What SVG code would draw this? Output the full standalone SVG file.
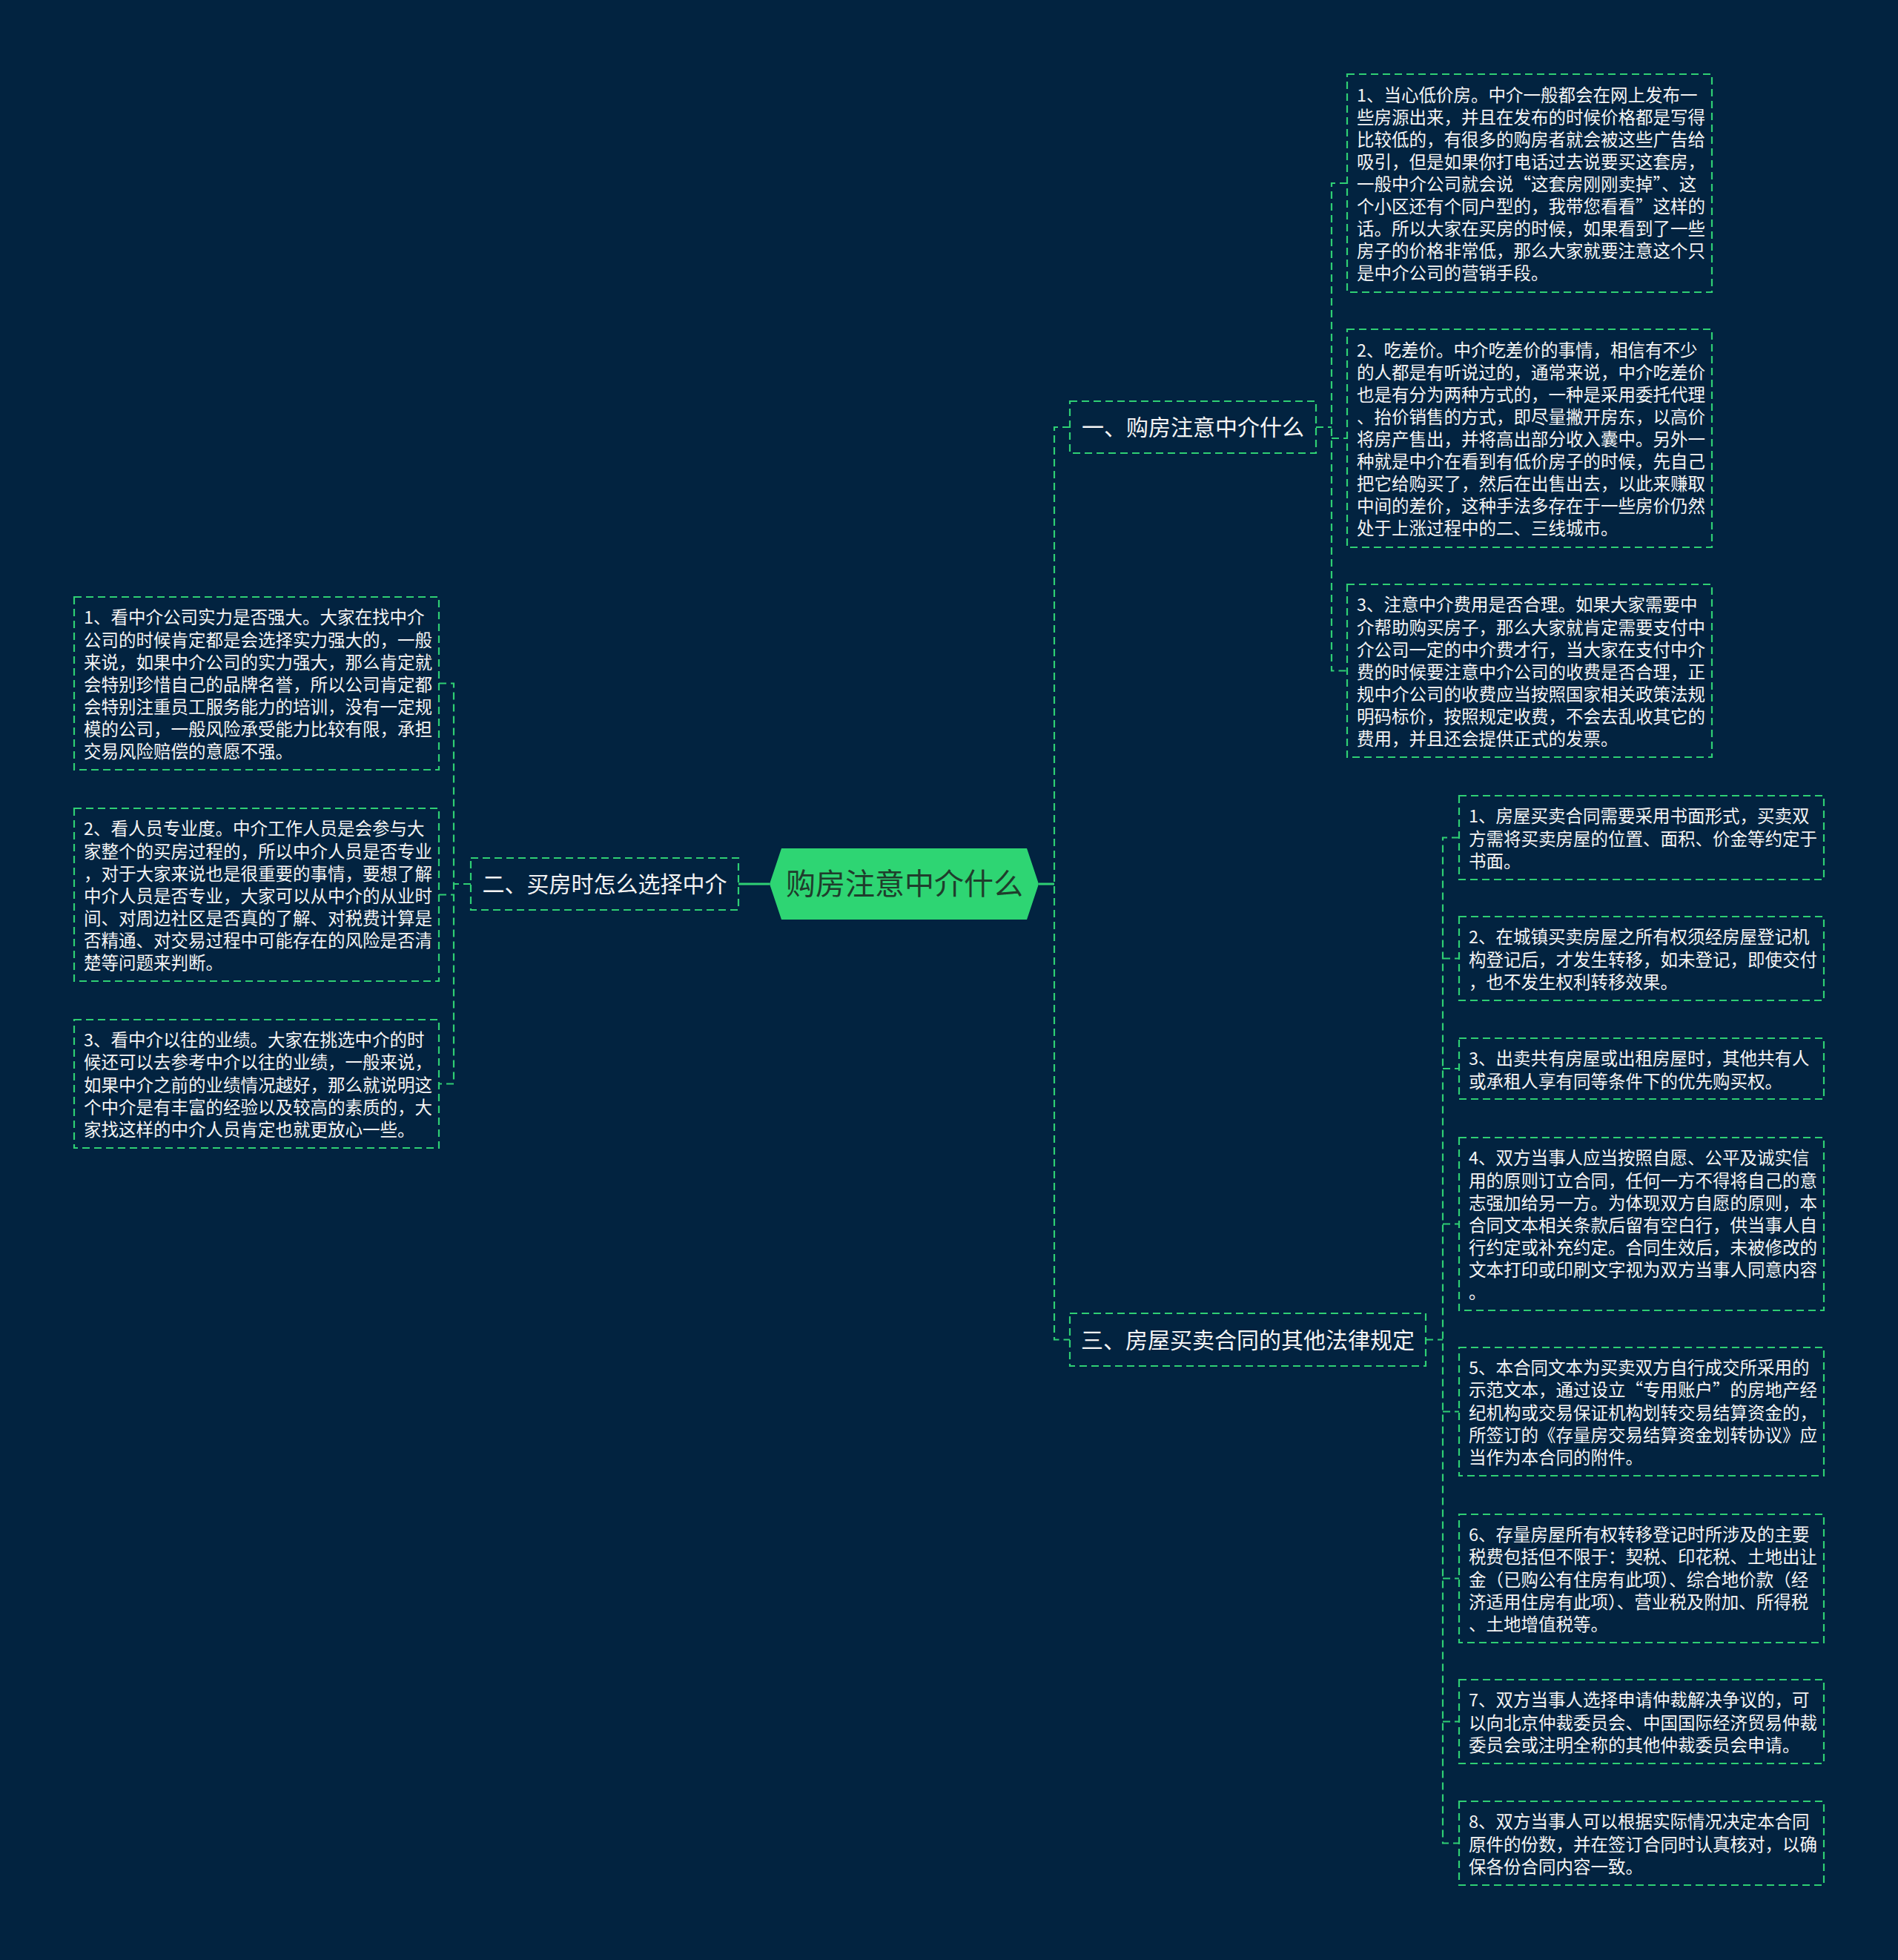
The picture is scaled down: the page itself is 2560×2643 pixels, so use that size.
<svg xmlns="http://www.w3.org/2000/svg" width="2560" height="2643" viewBox="0 0 2560 2643">
<style>
.bg{fill:#022340}
.box{fill:none;stroke:#2fcf74;stroke-width:2.2;stroke-dasharray:10 6}
.dash{fill:none;stroke:#2fcf74;stroke-width:2.2;stroke-dasharray:10 6}
.solid{fill:none;stroke:#2fcf74;stroke-width:3}
.leaf{font-family:"Noto Sans CJK SC","Noto Sans",sans-serif;font-size:23.5px;fill:#f4f4f4}
.br{font-family:"Noto Sans CJK SC","Noto Sans",sans-serif;font-size:30px;fill:#f4f4f4}
.rt{font-family:"Noto Sans CJK SC","Noto Sans",sans-serif;font-size:40px;fill:#1f3d2c}
</style>
<rect class="bg" x="0" y="0" width="2560" height="2643"/>
<g id="connectors">
<path class="solid" d="M996,1192 H1038"/>
<path class="solid" d="M1401,1192 H1422"/>
<path class="dash" d="M1443,576 H1422 V1806.5 H1443"/>
<path class="dash" d="M635,1192 H612"/>
<path class="dash" d="M592,921.5 H612 V1461.5 H592 M592,1206.5 H612"/>
<path class="dash" d="M1775,576 H1796"/>
<path class="dash" d="M1817,247 H1796 V904.5 H1817 M1796,591 H1817"/>
<path class="dash" d="M1923,1806.5 H1946"/>
<path class="dash" d="M1968,1129.5 H1946 V2485.5 H1968 M1946,1292.5 H1968 M1946,1441 H1968 M1946,1650.5 H1968 M1946,1903.5 H1968 M1946,2128.5 H1968 M1946,2321.5 H1968"/>
</g>
<g id="root">
<polygon points="1038,1192 1054,1144 1385,1144 1401,1192 1385,1240 1054,1240" fill="#2ed573"/>
<text class="rt" x="1220" y="1206" text-anchor="middle">购房注意中介什么</text>
</g>
<g id="branch1">
<rect class="box" x="1443" y="541" width="332" height="70"/>
<text class="br" x="1609" y="587" text-anchor="middle">一、购房注意中介什么</text>
</g>
<g id="branch2">
<rect class="box" x="635" y="1157" width="361" height="70"/>
<text class="br" x="815.5" y="1203" text-anchor="middle">二、买房时怎么选择中介</text>
</g>
<g id="branch3">
<rect class="box" x="1443" y="1771" width="480" height="71"/>
<text class="br" x="1683" y="1818" text-anchor="middle">三、房屋买卖合同的其他法律规定</text>
</g>
<g id="leaf-r1-1">
<rect class="box" x="1817" y="100" width="492" height="294"/>
<text class="leaf" x="1830" y="136.6"><tspan x="1830">1、当心低价房。中介一般都会在网上发布一</tspan><tspan x="1830" dy="30.1">些房源出来，并且在发布的时候价格都是写得</tspan><tspan x="1830" dy="30.1">比较低的，有很多的购房者就会被这些广告给</tspan><tspan x="1830" dy="30.1">吸引，但是如果你打电话过去说要买这套房，</tspan><tspan x="1830" dy="30.1">一般中介公司就会说“这套房刚刚卖掉”、这</tspan><tspan x="1830" dy="30.1">个小区还有个同户型的，我带您看看”这样的</tspan><tspan x="1830" dy="30.1">话。所以大家在买房的时候，如果看到了一些</tspan><tspan x="1830" dy="30.1">房子的价格非常低，那么大家就要注意这个只</tspan><tspan x="1830" dy="30.1">是中介公司的营销手段。</tspan></text>
</g>
<g id="leaf-r1-2">
<rect class="box" x="1817" y="444" width="492" height="294"/>
<text class="leaf" x="1830" y="480.6"><tspan x="1830">2、吃差价。中介吃差价的事情，相信有不少</tspan><tspan x="1830" dy="30.1">的人都是有听说过的，通常来说，中介吃差价</tspan><tspan x="1830" dy="30.1">也是有分为两种方式的，一种是采用委托代理</tspan><tspan x="1830" dy="30.1">、抬价销售的方式，即尽量撇开房东，以高价</tspan><tspan x="1830" dy="30.1">将房产售出，并将高出部分收入囊中。另外一</tspan><tspan x="1830" dy="30.1">种就是中介在看到有低价房子的时候，先自己</tspan><tspan x="1830" dy="30.1">把它给购买了，然后在出售出去，以此来赚取</tspan><tspan x="1830" dy="30.1">中间的差价，这种手法多存在于一些房价仍然</tspan><tspan x="1830" dy="30.1">处于上涨过程中的二、三线城市。</tspan></text>
</g>
<g id="leaf-r1-3">
<rect class="box" x="1817" y="788" width="492" height="233"/>
<text class="leaf" x="1830" y="824.4"><tspan x="1830">3、注意中介费用是否合理。如果大家需要中</tspan><tspan x="1830" dy="30.1">介帮助购买房子，那么大家就肯定需要支付中</tspan><tspan x="1830" dy="30.1">介公司一定的中介费才行，当大家在支付中介</tspan><tspan x="1830" dy="30.1">费的时候要注意中介公司的收费是否合理，正</tspan><tspan x="1830" dy="30.1">规中介公司的收费应当按照国家相关政策法规</tspan><tspan x="1830" dy="30.1">明码标价，按照规定收费，不会去乱收其它的</tspan><tspan x="1830" dy="30.1">费用，并且还会提供正式的发票。</tspan></text>
</g>
<g id="leaf-l1">
<rect class="box" x="100" y="805" width="492" height="233"/>
<text class="leaf" x="113" y="841.4"><tspan x="113">1、看中介公司实力是否强大。大家在找中介</tspan><tspan x="113" dy="30.1">公司的时候肯定都是会选择实力强大的，一般</tspan><tspan x="113" dy="30.1">来说，如果中介公司的实力强大，那么肯定就</tspan><tspan x="113" dy="30.1">会特别珍惜自己的品牌名誉，所以公司肯定都</tspan><tspan x="113" dy="30.1">会特别注重员工服务能力的培训，没有一定规</tspan><tspan x="113" dy="30.1">模的公司，一般风险承受能力比较有限，承担</tspan><tspan x="113" dy="30.1">交易风险赔偿的意愿不强。</tspan></text>
</g>
<g id="leaf-l2">
<rect class="box" x="100" y="1090" width="492" height="233"/>
<text class="leaf" x="113" y="1126.4"><tspan x="113">2、看人员专业度。中介工作人员是会参与大</tspan><tspan x="113" dy="30.1">家整个的买房过程的，所以中介人员是否专业</tspan><tspan x="113" dy="30.1">，对于大家来说也是很重要的事情，要想了解</tspan><tspan x="113" dy="30.1">中介人员是否专业，大家可以从中介的从业时</tspan><tspan x="113" dy="30.1">间、对周边社区是否真的了解、对税费计算是</tspan><tspan x="113" dy="30.1">否精通、对交易过程中可能存在的风险是否清</tspan><tspan x="113" dy="30.1">楚等问题来判断。</tspan></text>
</g>
<g id="leaf-l3">
<rect class="box" x="100" y="1375" width="492" height="173"/>
<text class="leaf" x="113" y="1411.3"><tspan x="113">3、看中介以往的业绩。大家在挑选中介的时</tspan><tspan x="113" dy="30.1">候还可以去参考中介以往的业绩，一般来说，</tspan><tspan x="113" dy="30.1">如果中介之前的业绩情况越好，那么就说明这</tspan><tspan x="113" dy="30.1">个中介是有丰富的经验以及较高的素质的，大</tspan><tspan x="113" dy="30.1">家找这样的中介人员肯定也就更放心一些。</tspan></text>
</g>
<g id="leaf-r3-1">
<rect class="box" x="1968" y="1073" width="492" height="113"/>
<text class="leaf" x="1981" y="1109.4"><tspan x="1981">1、房屋买卖合同需要采用书面形式，买卖双</tspan><tspan x="1981" dy="30.1">方需将买卖房屋的位置、面积、价金等约定于</tspan><tspan x="1981" dy="30.1">书面。</tspan></text>
</g>
<g id="leaf-r3-2">
<rect class="box" x="1968" y="1236" width="492" height="113"/>
<text class="leaf" x="1981" y="1272.4"><tspan x="1981">2、在城镇买卖房屋之所有权须经房屋登记机</tspan><tspan x="1981" dy="30.1">构登记后，才发生转移，如未登记，即使交付</tspan><tspan x="1981" dy="30.1">，也不发生权利转移效果。</tspan></text>
</g>
<g id="leaf-r3-3">
<rect class="box" x="1968" y="1400" width="492" height="82"/>
<text class="leaf" x="1981" y="1436.4"><tspan x="1981">3、出卖共有房屋或出租房屋时，其他共有人</tspan><tspan x="1981" dy="30.1">或承租人享有同等条件下的优先购买权。</tspan></text>
</g>
<g id="leaf-r3-4">
<rect class="box" x="1968" y="1534" width="492" height="233"/>
<text class="leaf" x="1981" y="1570.4"><tspan x="1981">4、双方当事人应当按照自愿、公平及诚实信</tspan><tspan x="1981" dy="30.1">用的原则订立合同，任何一方不得将自己的意</tspan><tspan x="1981" dy="30.1">志强加给另一方。为体现双方自愿的原则，本</tspan><tspan x="1981" dy="30.1">合同文本相关条款后留有空白行，供当事人自</tspan><tspan x="1981" dy="30.1">行约定或补充约定。合同生效后，未被修改的</tspan><tspan x="1981" dy="30.1">文本打印或印刷文字视为双方当事人同意内容</tspan><tspan x="1981" dy="30.1">。</tspan></text>
</g>
<g id="leaf-r3-5">
<rect class="box" x="1968" y="1817" width="492" height="173"/>
<text class="leaf" x="1981" y="1853.3"><tspan x="1981">5、本合同文本为买卖双方自行成交所采用的</tspan><tspan x="1981" dy="30.1">示范文本，通过设立“专用账户”的房地产经</tspan><tspan x="1981" dy="30.1">纪机构或交易保证机构划转交易结算资金的，</tspan><tspan x="1981" dy="30.1">所签订的《存量房交易结算资金划转协议》应</tspan><tspan x="1981" dy="30.1">当作为本合同的附件。</tspan></text>
</g>
<g id="leaf-r3-6">
<rect class="box" x="1968" y="2042" width="492" height="173"/>
<text class="leaf" x="1981" y="2078.3"><tspan x="1981">6、存量房屋所有权转移登记时所涉及的主要</tspan><tspan x="1981" dy="30.1">税费包括但不限于：契税、印花税、土地出让</tspan><tspan x="1981" dy="30.1">金（已购公有住房有此项）、综合地价款（经</tspan><tspan x="1981" dy="30.1">济适用住房有此项）、营业税及附加、所得税</tspan><tspan x="1981" dy="30.1">、土地增值税等。</tspan></text>
</g>
<g id="leaf-r3-7">
<rect class="box" x="1968" y="2265" width="492" height="113"/>
<text class="leaf" x="1981" y="2301.4"><tspan x="1981">7、双方当事人选择申请仲裁解决争议的，可</tspan><tspan x="1981" dy="30.1">以向北京仲裁委员会、中国国际经济贸易仲裁</tspan><tspan x="1981" dy="30.1">委员会或注明全称的其他仲裁委员会申请。</tspan></text>
</g>
<g id="leaf-r3-8">
<rect class="box" x="1968" y="2429" width="492" height="113"/>
<text class="leaf" x="1981" y="2465.4"><tspan x="1981">8、双方当事人可以根据实际情况决定本合同</tspan><tspan x="1981" dy="30.1">原件的份数，并在签订合同时认真核对，以确</tspan><tspan x="1981" dy="30.1">保各份合同内容一致。</tspan></text>
</g>
</svg>
